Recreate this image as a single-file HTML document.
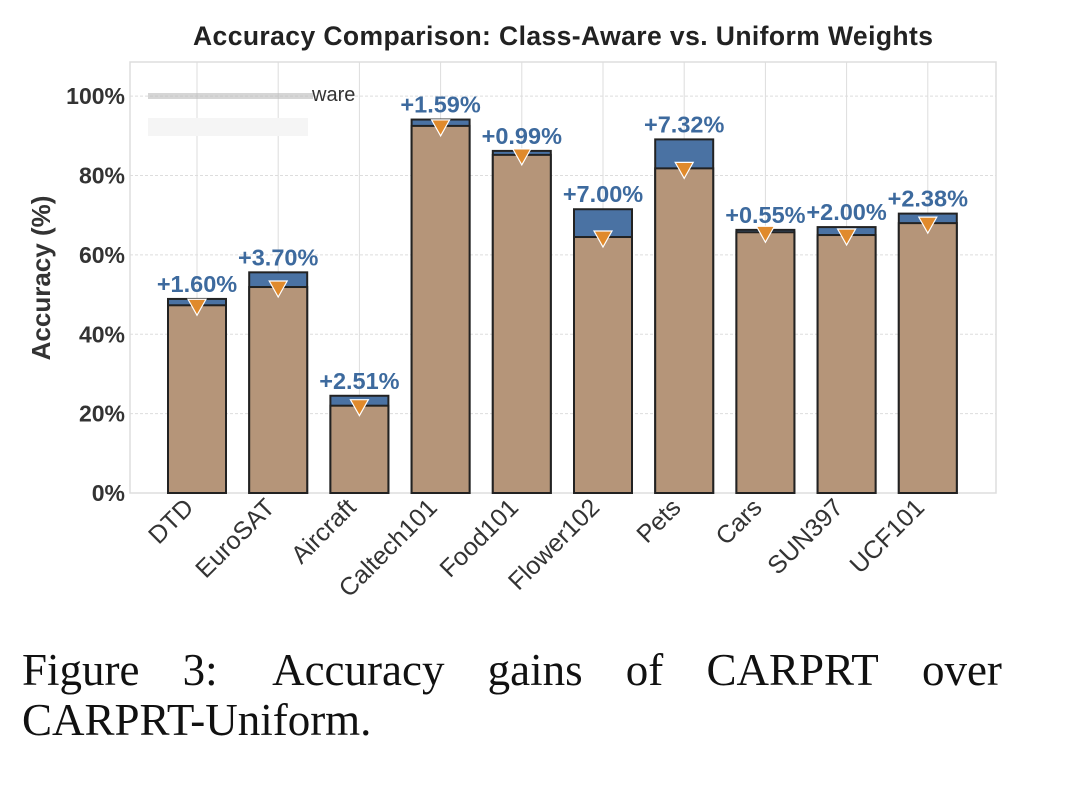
<!DOCTYPE html>
<html><head><meta charset="utf-8"><style>
body{margin:0;background:#fff;width:1080px;height:785px;overflow:hidden;font-family:"Liberation Sans",sans-serif}
svg{position:absolute;left:0;top:0}
.cap{position:absolute;left:22px;top:645px;width:980px;font-family:"Liberation Serif",serif;font-size:45px;line-height:50px;color:#111}
</style></head><body>
<svg id="chart" width="1080" height="640" xmlns="http://www.w3.org/2000/svg"></svg>
<div class="cap"><div style="display:flex;justify-content:space-between"><span>Figure</span><span>3:</span><span>&nbsp;Accuracy</span><span>gains</span><span>of</span><span>CARPRT</span><span>over</span></div><div>CARPRT-Uniform.</div></div>
<script>
const categories=["DTD","EuroSAT","Aircraft","Caltech101","Food101","Flower102","Pets","Cars","SUN397","UCF101"];
const uniformVals=[47.3,51.9,22.0,92.5,85.2,64.5,81.8,65.7,65.0,68.0];
const awareVals=[48.9,55.6,24.5,94.1,86.2,71.5,89.1,66.3,67.0,70.4];
const gainLabels=["+1.60%","+3.70%","+2.51%","+1.59%","+0.99%","+7.00%","+7.32%","+0.55%","+2.00%","+2.38%"];
const yTicks=[0,20,40,60,80,100];
const NS="http://www.w3.org/2000/svg";
const svg=document.getElementById('chart');
const L=130,R=996,T=62,B=493,yMax=108.6;
const y=v=>B-(v/yMax)*(B-T);
const x=i=>197+i*81.2;
const bw=58;
function mk(tag,a,parent){const e=document.createElementNS(NS,tag);for(const k in a)e.setAttribute(k,a[k]);(parent||svg).appendChild(e);return e;}
let t=mk('text',{x:563,y:45,'text-anchor':'middle','font-size':'26.5','font-weight':'bold',fill:'#222',textLength:740});t.textContent="Accuracy Comparison: Class-Aware vs. Uniform Weights";


mk('rect',{x:L,y:T,width:R-L,height:B-T,fill:'#fff',stroke:'#ddd','stroke-width':1.5});
yTicks.forEach(v=>{
 const g=mk('line',{x1:L,x2:R,y1:y(v),y2:y(v),stroke:'#ddd','stroke-dasharray':'3,2'});
 
 
 const tt=mk('text',{x:125,y:y(v)+8,'text-anchor':'end','font-size':'23','font-weight':'bold',fill:'#333'});tt.textContent=v+"%";
 
 
});
categories.forEach((c,i)=>{
 const g=mk('line',{x1:x(i),x2:x(i),y1:T,y2:B,stroke:'#ddd'});
 
 
});
t=mk('text',{x:50,y:278,'text-anchor':'middle','font-size':'26','font-weight':'bold',fill:'#333',transform:'rotate(-90 50 278)'});t.textContent="Accuracy (%)";


const lg=mk('g',{});


mk('rect',{x:148,y:93,width:165,height:6,fill:'#bbb',opacity:0.6},lg);
mk('rect',{x:148,y:118,width:160,height:18,fill:'#f5f5f5'},lg);
t=mk('text',{x:312,y:101,'font-size':'20',fill:'#333'},lg);t.textContent="ware";
categories.forEach((c,i)=>{
 const cx=x(i);
 let r=mk('rect',{x:cx-bw/2,y:y(awareVals[i]),width:bw,height:B-y(awareVals[i]),fill:'#4a72a3',stroke:'#222','stroke-width':2});
 
 
 r=mk('rect',{x:cx-bw/2,y:y(uniformVals[i]),width:bw,height:B-y(uniformVals[i]),fill:'#b59579',stroke:'#222','stroke-width':2});
 
 
 const my=y(uniformVals[i]);
 const m=mk('path',{d:`M${cx-9},${my-6} L${cx+9},${my-6} L${cx},${my+10} Z`,fill:'#e08a2c',stroke:'#fff','stroke-width':1.2});
 
 
 const lt=mk('text',{x:cx,y:y(awareVals[i])-7,'text-anchor':'middle','font-size':'23.5','font-weight':'bold',fill:'#3d6a9e'});lt.textContent=gainLabels[i];
 
 
 const xl=mk('text',{x:cx-2,y:B+16,'text-anchor':'end','font-size':'25',fill:'#333',transform:`rotate(-45 ${cx-2} ${B+16})`});xl.textContent=c;
 
 
});
</script>
</body></html>
